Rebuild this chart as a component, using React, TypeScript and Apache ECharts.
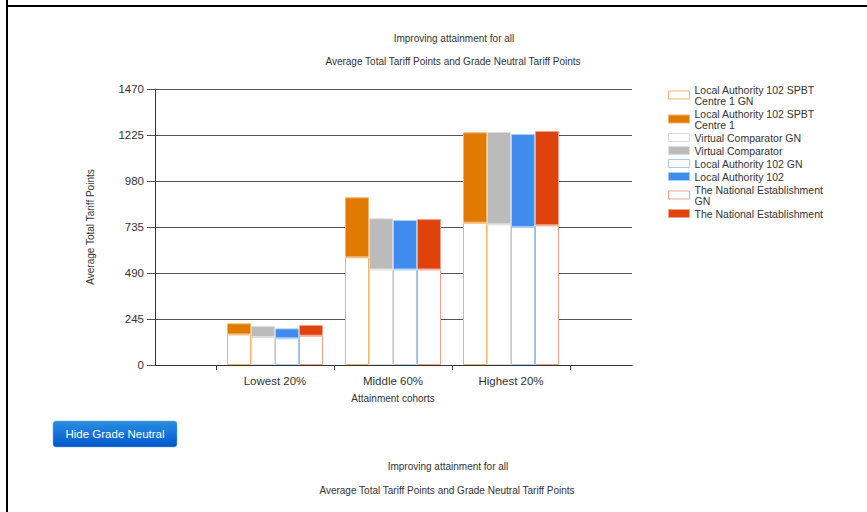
import React, { useEffect, useRef } from "react";
import * as echarts from "echarts";

// Attainment cohorts on the category axis
const categories = ["Lowest 20%", "Middle 60%", "Highest 20%"];

// Average total tariff points (full bar height) and grade-neutral points (white base)
const spbtGN = [163, 574, 758];
const spbtTotal = [222, 893, 1239];
const vcGN = [149, 509, 749];
const vcTotal = [208, 781, 1241];
const laGN = [142, 509, 735];
const laTotal = [195, 772, 1230];
const neGN = [156, 509, 744];
const neTotal = [213, 777, 1246];

const yTicks = [0, 245, 490, 735, 980, 1225, 1470];

const FONT = "'Liberation Sans', Arial, sans-serif";

const groups = [
  { name: "Local Authority 102 SPBT Centre 1", gn: spbtGN, total: spbtTotal, fill: "#E07B00", edge: "#F4B26A" },
  { name: "Virtual Comparator", gn: vcGN, total: vcTotal, fill: "#BBBBBB", edge: "#DCDCDC" },
  { name: "Local Authority 102", gn: laGN, total: laTotal, fill: "#3F8CEE", edge: "#A9CBF6" },
  { name: "The National Establishment", gn: neGN, total: neTotal, fill: "#E0420C", edge: "#F2A08A" },
];

const legendLines: Record<string, string> = {
  "Local Authority 102 SPBT Centre 1 GN": "Local Authority 102 SPBT\nCentre 1 GN",
  "Local Authority 102 SPBT Centre 1": "Local Authority 102 SPBT\nCentre 1",
  "The National Establishment GN": "The National Establishment\nGN",
};

function buildSeries() {
  const out: any[] = [];
  groups.forEach((g, i) => {
    out.push({
      name: g.name + " GN",
      type: "bar",
      stack: "s" + i,
      xAxisIndex: 0,
      yAxisIndex: 0,
      barWidth: 24,
      barGap: "0%",
      data: g.gn,
      itemStyle: { color: "#ffffff", borderColor: g.edge, borderWidth: 1 },
    });
    out.push({
      name: g.name,
      type: "bar",
      stack: "s" + i,
      xAxisIndex: 0,
      yAxisIndex: 0,
      barWidth: 24,
      barGap: "0%",
      data: g.total.map((t, k) => t - g.gn[k]),
      itemStyle: { color: g.fill, borderColor: g.edge, borderWidth: 1 },
    });
  });
  return out;
}

function titleLine(text: string, x: number, y: number) {
  return {
    type: "text",
    x,
    y,
    style: {
      text,
      align: "center",
      verticalAlign: "middle",
      fontSize: 10,
      fontFamily: FONT,
      fill: "#333",
    },
  };
}

export default function App() {
  const ref = useRef<HTMLDivElement>(null);

  useEffect(() => {
    if (!ref.current) return;
    const chart = echarts.init(ref.current, null, { renderer: "svg" });
    chart.setOption({
      animation: false,
      backgroundColor: "#ffffff",
      textStyle: { fontFamily: FONT },
      grid: [
        { left: 216, right: 297, top: 89, bottom: 147 },
        { left: 155, right: 235, top: 89, bottom: 147 },
      ],
      xAxis: [
        {
          type: "category",
          gridIndex: 0,
          data: categories,
          axisLine: { show: false },
          axisTick: { show: true, length: 5, lineStyle: { color: "#333" } },
          axisLabel: { fontSize: 11.5, color: "#333", margin: 10, fontFamily: FONT },
          name: "Attainment cohorts",
          nameLocation: "middle",
          nameGap: 28,
          nameTextStyle: { fontSize: 10, color: "#333", fontFamily: FONT },
          z: 5,
        },
        {
          type: "value",
          gridIndex: 1,
          min: 0,
          max: 1,
          axisLine: { show: true, lineStyle: { color: "#333" } },
          axisTick: { show: false },
          axisLabel: { show: false },
          splitLine: { show: false },
        },
      ],
      yAxis: [
        { type: "value", gridIndex: 0, min: 0, max: 1470, show: false },
        {
          type: "value",
          gridIndex: 1,
          min: 0,
          max: 1470,
          interval: 245,
          axisLine: { show: true, lineStyle: { color: "#333" } },
          axisTick: { show: true, length: 8, lineStyle: { color: "#555" } },
          axisLabel: {
            fontSize: 11.5,
            color: "#333",
            margin: 11,
            fontFamily: FONT,
            formatter: (v: number) => (yTicks.includes(v) ? String(v) : ""),
          },
          splitLine: { show: true, lineStyle: { color: "#555", width: 1 } },
          name: "Average Total Tariff Points",
          nameLocation: "middle",
          nameGap: 60,
          nameTextStyle: { fontSize: 10, color: "#333", fontFamily: FONT },
        },
      ],
      legend: {
        orient: "vertical",
        left: 668,
        top: 84,
        padding: 0,
        itemGap: 2,
        itemWidth: 21,
        itemHeight: 8,
        icon: "rect",
        itemStyle: { borderWidth: 1 },
        formatter: (name: string) => legendLines[name] || name,
        textStyle: { fontSize: 10.5, lineHeight: 11, color: "#333", fontFamily: FONT },
      },
      series: buildSeries(),
      graphic: [
        // page frame
        { type: "rect", shape: { x: 6, y: 0, width: 2, height: 512 }, style: { fill: "#000" } },
        { type: "rect", shape: { x: 6, y: 5, width: 861, height: 2 }, style: { fill: "#000" } },
        titleLine("Improving attainment for all", 454, 38),
        titleLine("Average Total Tariff Points and Grade Neutral Tariff Points", 453, 61),
        // toggle button
        {
          type: "group",
          x: 53,
          y: 421,
          children: [
            {
              type: "rect",
              shape: { x: 0, y: 0, width: 124, height: 26, r: 3 },
              style: {
                fill: new echarts.graphic.LinearGradient(0, 0, 0, 1, [
                  { offset: 0, color: "#2A8FE2" },
                  { offset: 1, color: "#0056CC" },
                ]),
                stroke: "#6FA8E0",
                lineWidth: 0.5,
              },
            },
            {
              type: "text",
              x: 62,
              y: 13,
              style: {
                text: "Hide Grade Neutral",
                align: "center",
                verticalAlign: "middle",
                fontSize: 11.5,
                fontFamily: FONT,
                fill: "#ffffff",
              },
            },
          ],
        },
        titleLine("Improving attainment for all", 448, 466),
        titleLine("Average Total Tariff Points and Grade Neutral Tariff Points", 447, 490),
      ],
    });
    return () => chart.dispose();
  }, []);

  return (
    <div
      ref={ref}
      style={{ position: "fixed", left: 0, top: 0, width: 867, height: 512 }}
    />
  );
}
